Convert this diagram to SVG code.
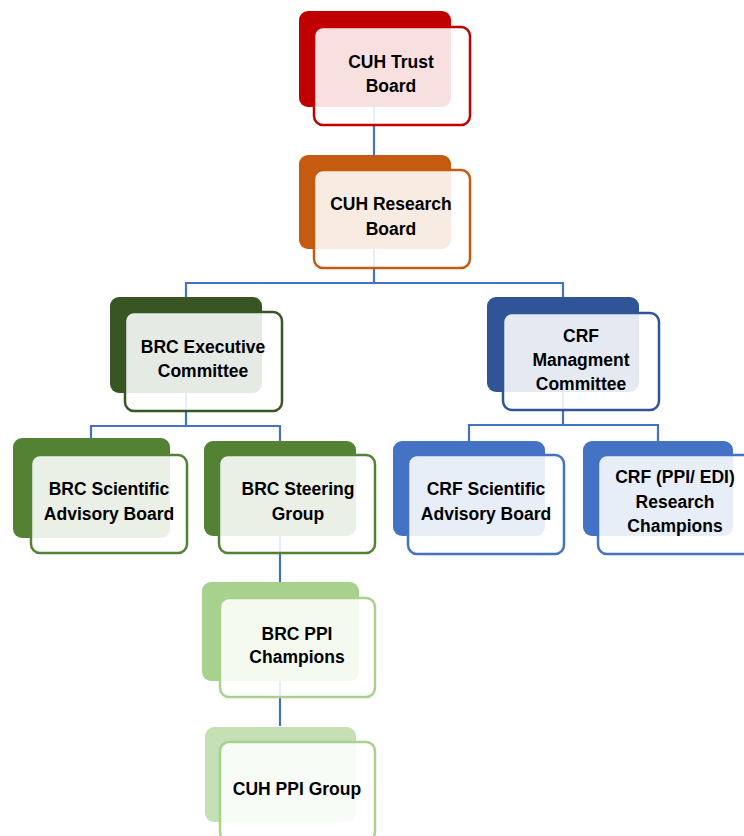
<svg xmlns="http://www.w3.org/2000/svg" width="744" height="836" viewBox="0 0 744 836">
<style>
.bk{stroke:none}
.fr{fill:#fff;fill-opacity:0.88;stroke-width:2.5}
.t{font-family:"Liberation Sans",Arial,sans-serif;font-weight:bold;font-size:17.5px;fill:#000;text-anchor:middle}
.c{fill:none;stroke:#4472C4;stroke-width:2.2}
</style>
<rect width="744" height="836" fill="#fff"/>
<g id="connectors">
<path class="c" d="M374,107V155"/>
<path class="c" d="M374,249V283M186,297V283H563V297"/>
<path class="c" d="M186,393V426M91,438V426H280V441"/>
<path class="c" d="M563,392V425M469,441V425H658V441"/>
<path class="c" d="M280,536V582"/>
<path class="c" d="M280,681V726"/>
</g>
<g id="n1">
<rect class="bk" x="299" y="11" width="152" height="96" rx="9" fill="#C00000"/>
<rect class="fr" x="314" y="27" width="156" height="98" rx="9" stroke="#C00000"/>
<text class="t" x="391" y="68">CUH Trust</text>
<text class="t" x="391" y="92">Board</text>
</g>
<g id="n2">
<rect class="bk" x="299" y="155" width="152" height="94" rx="9" fill="#C55A11"/>
<rect class="fr" x="314" y="170" width="156" height="98" rx="9" stroke="#C55A11"/>
<text class="t" x="391" y="210">CUH Research</text>
<text class="t" x="391" y="235">Board</text>
</g>
<g id="n3">
<rect class="bk" x="110" y="297" width="152" height="96" rx="9" fill="#375623"/>
<rect class="fr" x="125" y="312" width="157" height="99" rx="9" stroke="#375623"/>
<text class="t" x="203" y="353">BRC Executive</text>
<text class="t" x="203" y="377">Committee</text>
</g>
<g id="n4">
<rect class="bk" x="487" y="297" width="152" height="95" rx="9" fill="#2F5597"/>
<rect class="fr" x="503" y="313" width="156" height="97" rx="9" stroke="#2F5597"/>
<text class="t" x="581" y="342">CRF</text>
<text class="t" x="581" y="366">Managment</text>
<text class="t" x="581" y="390">Committee</text>
</g>
<g id="n5">
<rect class="bk" x="13" y="438" width="157" height="100" rx="9" fill="#548235"/>
<rect class="fr" x="31" y="455" width="156" height="98" rx="9" stroke="#548235"/>
<text class="t" x="109" y="495">BRC Scientific</text>
<text class="t" x="109" y="520">Advisory Board</text>
</g>
<g id="n6">
<rect class="bk" x="204" y="441" width="152" height="95" rx="9" fill="#548235"/>
<rect class="fr" x="219" y="455" width="156" height="98" rx="9" stroke="#548235"/>
<text class="t" x="298" y="495">BRC Steering</text>
<text class="t" x="298" y="520">Group</text>
</g>
<g id="n7">
<rect class="bk" x="393" y="441" width="152" height="95" rx="9" fill="#4472C4"/>
<rect class="fr" x="408" y="455" width="156" height="99" rx="9" stroke="#4472C4"/>
<text class="t" x="486" y="495">CRF Scientific</text>
<text class="t" x="486" y="520">Advisory Board</text>
</g>
<g id="n8">
<rect class="bk" x="583" y="441" width="150" height="95" rx="9" fill="#4472C4"/>
<rect class="fr" x="598" y="455" width="156" height="99" rx="9" stroke="#4472C4"/>
<text class="t" x="675" y="483">CRF (PPI/ EDI)</text>
<text class="t" x="675" y="508">Research</text>
<text class="t" x="675" y="532">Champions</text>
</g>
<g id="n9">
<rect class="bk" x="202" y="582" width="157" height="99" rx="9" fill="#A9D18E"/>
<rect class="fr" x="220" y="598" width="155" height="99" rx="9" stroke="#A9D18E"/>
<text class="t" x="297" y="640">BRC PPI</text>
<text class="t" x="297" y="663">Champions</text>
</g>
<g id="n10">
<rect class="bk" x="205" y="727" width="151" height="95" rx="9" fill="#C5E0B4"/>
<rect class="fr" x="220" y="742" width="155" height="99" rx="9" stroke="#A9D18E"/>
<text class="t" x="297" y="795">CUH PPI Group</text>
</g>
</svg>
